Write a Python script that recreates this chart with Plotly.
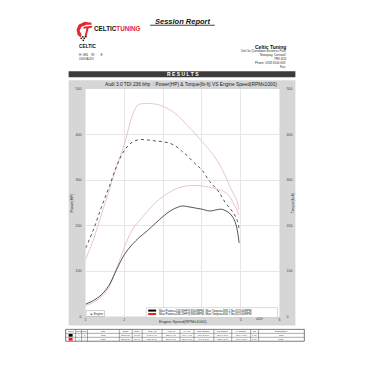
import plotly.graph_objects as go

# ---------------- data ----------------
rpm_std = [1.0, 1.2, 1.4, 1.6, 1.8, 2.0, 2.2, 2.4, 2.6, 2.8, 3.0, 3.2, 3.4, 3.5, 3.6, 3.8, 4.0, 4.2, 4.4, 4.5, 4.6, 4.7, 4.8, 4.85, 4.9, 4.96]
power_std = [27, 35, 47, 68, 103, 136, 158, 175, 189, 205, 220, 233, 241, 243, 242, 239, 236, 232, 235, 236, 233, 228, 218, 209, 195, 162]
rpm_std_t = [1.0, 1.2, 1.4, 1.6, 1.8, 2.0, 2.2, 2.4, 2.6, 2.8, 3.0, 3.2, 3.4, 3.5, 3.6, 3.8, 4.0, 4.2, 4.4, 4.5, 4.6, 4.7, 4.8, 4.9, 4.97]
torque_std = [150, 190, 238, 283, 330, 365, 383, 389, 388, 386, 384, 380, 370, 362, 355, 338, 322, 297, 278, 265, 251, 240, 229, 214, 188]

rpm_mod = [1.0, 1.2, 1.4, 1.6, 1.8, 2.0, 2.2, 2.35, 2.5, 2.8, 3.0, 3.2, 3.4, 3.6, 3.8, 4.0, 4.2, 4.4, 4.6, 4.7, 4.8, 4.9, 4.95]
power_mod = [24, 31, 43, 64, 106, 152, 190, 207, 222, 250, 264, 275, 283, 287, 288, 287, 284, 280, 273, 266, 251, 235, 224]
torque_mod = [126, 168, 222, 275, 330, 378, 440, 465, 468, 467, 462, 453, 440, 422, 404, 385, 365, 342, 310, 290, 272, 255, 235]

x_ticks = [1, 2, 5, 6]
x_grid_extra = [3, 4]
y_ticks = [0, 100, 200, 300, 400, 500]

legend_lines = ["Max Power=242.8HP@3500RPM, Max Torque=388.2 lbs@2500RPM",
                "Max Power=288.2HP@3800RPM, Max Torque=466.7 lbs@2500RPM"]

tbl_header = ["Color", "Gear", "Run", "Title", "Date", "Time", "Max HP", "Avg HP", "Av. HP",
              "Max Torque", "Avg Torque", "Av. Torque", "CF", "Description"]
tbl_rows = [
    ["", "4", "1", "STD", "23/10/09", "10:05", "242.8 HP", "228.0 HP", "176.4 HP",
     "388.2 lb-ft", "356.8 lb-ft", "318.4 lb-ft", "1.00", "STD"],
    ["", "4", "4", "MOD", "23/10/09", "10:41", "288.2 HP", "270.6 HP", "210.5 HP",
     "466.7 lb-ft", "422.7 lb-ft", "384.8 lb-ft", "1.00", "MOD"],
]
tbl_widths = [10, 6, 6, 32, 13, 10, 20, 18, 14, 20, 18, 19, 8, 46]
row_colors = ["#000000", "#e02020"]

# ---------------- helpers ----------------
W = H = 366
FONT = "Arial, Liberation Sans, sans-serif"
PINK = "#e6bfc4"
DARK = "#2a2a2a"


def px(x):
    return x / W


def py(y):
    return 1 - y / H


def rect(x0, y0, x1, y1, fill, line=None, lw=0, layer="below"):
    return dict(type="rect", xref="paper", yref="paper", x0=px(x0), x1=px(x1),
                y0=py(y1), y1=py(y0), fillcolor=fill, layer=layer,
                line=dict(color=line or fill, width=lw))


def hline(x0, x1, y, color, w, layer="above"):
    return dict(type="line", xref="paper", yref="paper", x0=px(x0), x1=px(x1), y0=py(y), y1=py(y),
                layer=layer, line=dict(color=color, width=w))


def vline(x, y0, y1, color, w, layer="above"):
    return dict(type="line", xref="paper", yref="paper", x0=px(x), x1=px(x), y0=py(y0), y1=py(y1),
                layer=layer, line=dict(color=color, width=w))


def text(x, y, s, size, color="#222", bold=False, xanchor="center", angle=0, italic=False):
    if bold:
        s = "<b>" + s + "</b>"
    if italic:
        s = "<i>" + s + "</i>"
    return dict(x=px(x), y=py(y), xref="paper", yref="paper", text=s, showarrow=False,
                xanchor=xanchor, yanchor="middle", textangle=angle,
                font=dict(size=size, color=color, family=FONT))


def path(points, closed=True):
    d = "M " + " L ".join(f"{px(a):.5f},{py(b):.5f}" for a, b in points)
    return d + (" Z" if closed else "")


fig = go.Figure()

fig.add_trace(go.Scatter(x=rpm_mod, y=torque_mod, yaxis="y2", mode="lines",
                         line=dict(color=PINK, width=0.9, shape="spline"), showlegend=False))
fig.add_trace(go.Scatter(x=rpm_mod, y=power_mod, mode="lines",
                         line=dict(color=PINK, width=0.9, shape="spline"), showlegend=False))
fig.add_trace(go.Scatter(x=rpm_std_t, y=torque_std, yaxis="y2", mode="lines",
                         line=dict(color=DARK, width=0.8, dash="dot", shape="spline"), showlegend=False))
fig.add_trace(go.Scatter(x=rpm_std, y=power_std, mode="lines",
                         line=dict(color=DARK, width=0.8, shape="spline"), showlegend=False))

shapes = [
    # chart frame and plot area
    rect(68, 79, 296, 327, "#d6d6d6"),
    rect(85, 88, 280, 318, "white"),
    # results bar
    rect(68, 70, 296, 76, "#3b3b3b"),
    # session report underline
    hline(150, 215, 23.5, "#111", 0.8),
    # legend boxes
    rect(146, 309, 278, 319, "white", "#bbb", 0.5, layer="above"),
    rect(148, 311, 156, 313, "#000000", layer="above"),
    rect(148, 314.5, 156, 316.5, "#e02020", layer="above"),
    rect(85.5, 312, 104, 318, "white", "#999", 0.5, layer="above"),
    # logo
    dict(type="path", xref="paper", yref="paper", layer="above",
         path=path([(91, 21), (84, 20), (78, 23), (76, 28), (77, 33), (80, 36), (81, 33),
                    (79, 29), (81, 25), (86, 23), (91, 23)]),
         fillcolor="#e0282e", line=dict(width=0)),
    dict(type="path", xref="paper", yref="paper", layer="above",
         path=path([(83, 25), (92, 24), (91, 26), (88, 26.5), (86, 35), (84, 35), (86, 26.5), (83, 27)]),
         fillcolor="#e0282e", line=dict(width=0)),
]
for (cx, cy) in [(80, 36), (83, 36), (81.5, 34.5), (84.5, 34.5), (82, 38)]:
    shapes.append(rect(cx, cy, cx + 1.5, cy + 1.5, "#111", layer="above"))

annotations = [
    text(183, 20, "Session Report", 7.5, "#111", bold=True, italic=True),
    dict(x=px(91), y=py(27), xref="paper", yref="paper", showarrow=False, xanchor="left", yanchor="middle",
         text="<b><span style='color:#111'>CELTIC</span><span style='color:#e0282e'>TUNING</span></b>",
         font=dict(size=6.3, family=FONT)),
    text(76, 45, "CELTIC", 4.8, "#111", bold=True, xanchor="left"),
    text(76, 54, "H: 386    W:       E:", 3, "#333", xanchor="left"),
    text(76, 58, "2009 AUDI", 3, "#333", xanchor="left"),
    text(289, 45, "Celtic Tuning", 5, "#111", bold=True, xanchor="right"),
    text(289, 50, "Unit 5a Quintdown Business Park", 3, "#333", xanchor="right"),
    text(289, 54, "Newquay, Cornwall", 3, "#333", xanchor="right"),
    text(289, 58, "TR8 4DS", 3, "#333", xanchor="right"),
    text(289, 62, "Phone: 0333 6500 669", 3, "#333", xanchor="right"),
    text(289, 66, "Fax:", 3, "#333", xanchor="right"),
    text(183, 73, "R E S U L T S", 5, "white", bold=True),
    text(191, 83, "Audi 3.0 TDI 236 bhp  : Power(HP) & Torque(lb-ft) VS Engine Speed(RPMx1000)", 4.8, "#222"),
    text(71, 203, "Power(HP)", 3.8, "#333", angle=-90),
    text(293, 203, "Torque(lb-ft)", 3.8, "#333", angle=-90),
    text(183, 323, "Engine Speed(RPMx1000)", 4, "#333"),
    text(260, 321, "x10<sup>3</sup>", 3.5, "#333"),
    text(157, 312, legend_lines[0], 3, "#222", xanchor="left"),
    text(157, 315.5, legend_lines[1], 3, "#222", xanchor="left"),
    text(87, 315, "⊕ Engine", 3, "#333", xanchor="left"),
]

# ---------------- results table (built from the table lists) ----------------
T_X0, T_Y0, ROW_H = 65, 331, 4
edges = [T_X0]
for w in tbl_widths:
    edges.append(edges[-1] + w)
n_rows = len(tbl_rows) + 1
T_Y1 = T_Y0 + n_rows * ROW_H
shapes.append(rect(edges[0], T_Y0, edges[-1], T_Y1, "white", "#444", 0.7, layer="above"))
for r in range(1, n_rows):
    shapes.append(hline(edges[0], edges[-1], T_Y0 + r * ROW_H, "#555", 0.5))
for e in edges[1:-1]:
    shapes.append(vline(e, T_Y0, T_Y1, "#555", 0.5))
for i, h in enumerate(tbl_header):
    annotations.append(text((edges[i] + edges[i + 1]) / 2, T_Y0 + ROW_H / 2, h, 2.4, "#222"))
for r, row in enumerate(tbl_rows):
    yc = T_Y0 + (r + 1.5) * ROW_H
    shapes.append(rect(edges[0] + 3, yc - 1.4, edges[1] - 3, yc + 1.4, row_colors[r], layer="above"))
    for i, v in enumerate(row):
        if v:
            annotations.append(text((edges[i] + edges[i + 1]) / 2, yc, v, 2.4, "#444"))

fig.update_layout(
    width=W, height=H, autosize=False,
    margin=dict(l=0, r=0, t=0, b=0, pad=0),
    paper_bgcolor="white", plot_bgcolor="white",
    showlegend=False,
    font=dict(family=FONT, size=4, color="#444"),
    xaxis=dict(domain=[px(85), px(280)], range=[1, 6], tickvals=x_ticks,
               showgrid=True, gridcolor="#e6e6e6", gridwidth=0.6, zeroline=False, showline=False,
               minor=dict(tickvals=x_grid_extra, showgrid=True, gridcolor="#e6e6e6", gridwidth=0.6, ticks=""),
               ticks="", tickfont=dict(size=3.6, color="#444"), ticklabelstandoff=0, anchor="y"),
    yaxis=dict(domain=[py(318), py(88)], range=[0, 500], tickvals=y_ticks,
               showgrid=True, gridcolor="#e6e6e6", gridwidth=0.6, zeroline=False, showline=False,
               ticks="", tickfont=dict(size=3.6, color="#444"), ticklabelstandoff=3),
    yaxis2=dict(overlaying="y", side="right", range=[0, 500], tickvals=y_ticks, showgrid=False,
                zeroline=False, showline=False, ticks="", tickfont=dict(size=3.6, color="#444"),
                ticklabelstandoff=6, anchor="x"),
    shapes=shapes,
    annotations=annotations,
)

fig.write_html("out.html")
